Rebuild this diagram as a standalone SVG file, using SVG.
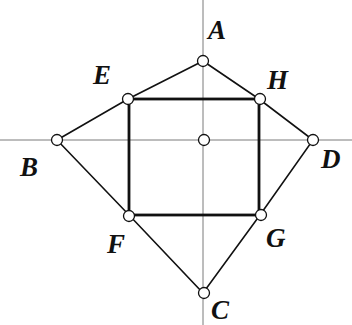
<svg xmlns="http://www.w3.org/2000/svg" width="352" height="325" viewBox="0 0 352 325">
<style>
.axis{stroke:#7a7a7a;stroke-width:1;fill:none}
.rh{stroke:#111;stroke-width:1.6;fill:none}
.sq{stroke:#111;stroke-width:2.8;fill:none}
.pt{fill:#fff;stroke:#111;stroke-width:1.3}
.lb{font-family:"Liberation Serif","Times New Roman",serif;font-weight:bold;font-style:italic;font-size:27px;fill:#111}
</style>
<rect width="352" height="325" fill="#fff"/>
<g id="connectors">
<line class="axis" x1="203" y1="0" x2="203" y2="325"/>
<line class="axis" x1="0" y1="140" x2="352" y2="140"/>
<polyline class="rh" points="203,61 128,99 57,140 129,215 203,293 260,215 313,140 259,99 203,61"/>
<rect class="sq" x="129" y="99" width="130" height="116"/>
</g>
<g id="A"><circle class="pt" cx="203" cy="61" r="5.5"/><text class="lb" x="208" y="39">A</text></g>
<g id="E"><circle class="pt" cx="128" cy="99" r="5.5"/><text class="lb" x="93" y="84">E</text></g>
<g id="H"><circle class="pt" cx="260" cy="99" r="5.5"/><text class="lb" x="267" y="89">H</text></g>
<g id="B"><circle class="pt" cx="57" cy="140" r="5.5"/><text class="lb" x="20" y="176">B</text></g>
<g id="O"><circle class="pt" cx="204" cy="140" r="5.5"/></g>
<g id="D"><circle class="pt" cx="313" cy="140" r="5.5"/><text class="lb" x="321" y="168">D</text></g>
<g id="F"><circle class="pt" cx="129" cy="216" r="5.5"/><text class="lb" x="107" y="253">F</text></g>
<g id="G"><circle class="pt" cx="261" cy="215" r="5.5"/><text class="lb" x="266" y="247">G</text></g>
<g id="C"><circle class="pt" cx="204" cy="293" r="5.5"/><text class="lb" x="211" y="319">C</text></g>
</svg>
